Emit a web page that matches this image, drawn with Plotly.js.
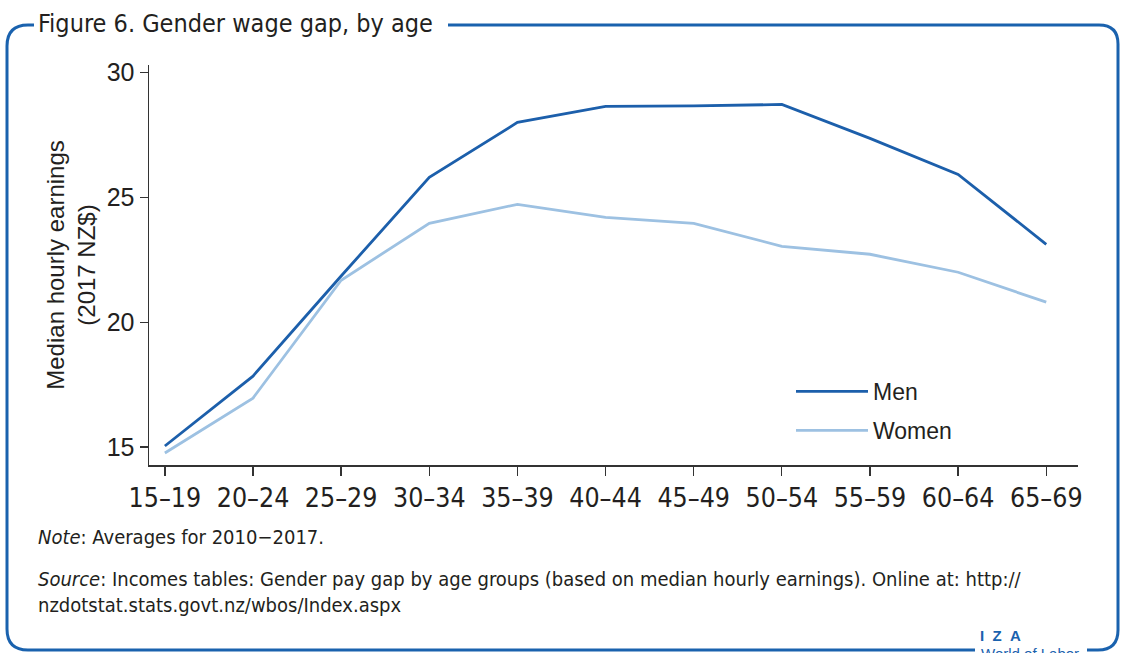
<!DOCTYPE html>
<html>
<head>
<meta charset="utf-8">
<script src="https://cdn.plot.ly/plotly-3.0.1.min.js"></script>
<style>
  html, body { margin: 0; padding: 0; background: #fff; }
  #chart { width: 1121px; height: 653px; }
</style>
</head>
<body>
<div id="chart"></div>
<script>
// ---- data ----
const ageGroups = ["15–19", "20–24", "25–29", "30–34", "35–39", "40–44", "45–49", "50–54", "55–59", "60–64", "65–69"];
const menEarnings = [15.04, 17.84, 21.85, 25.8, 28.0, 28.64, 28.66, 28.72, 27.36, 25.92, 23.12];
const womenEarnings = [14.76, 16.96, 21.68, 23.96, 24.72, 24.2, 23.96, 23.04, 22.72, 22.0, 20.8];
const seriesNames = ["Men", "Women"];

const titleText = "Figure 6. Gender wage gap, by age";
const yTitle = "Median hourly earnings<br>(2017 NZ$)";
const noteText = "<i>Note</i>: Averages for 2010−2017.";
const sourceText = "<i>Source</i>: Incomes tables: Gender pay gap by age groups (based on median hourly earnings). Online at: http://<br>nzdotstat.stats.govt.nz/wbos/Index.aspx";

// ---- layout helpers ----
const W = 1121, H = 653;
const M = {l: 149, r: 43, t: 65, b: 188};
const PW = W - M.l - M.r, PH = H - M.t - M.b;
const X = px => (px - M.l) / PW;
const Y = py => (H - M.b - py) / PH;

const narrow = 'Liberation Sans Narrow, Arial Narrow, DejaVu Sans Condensed, sans-serif';
const regular = 'Arial, Liberation Sans, Helvetica, sans-serif';
const ink = '#231f20';
const frameBlue = '#1a62ae';

const traces = [
  {x: ageGroups, y: menEarnings, name: seriesNames[0], type: 'scatter', mode: 'lines',
   line: {color: '#1c5fab', width: 2.8}, legendgroup: 'a'},
  {x: ageGroups, y: womenEarnings, name: seriesNames[1], type: 'scatter', mode: 'lines',
   line: {color: '#9dc1e2', width: 2.8}, legendgroup: 'b'}
];

const framePath =
  `M ${X(448)},${Y(25)} L ${X(1099)},${Y(25)} Q ${X(1118)},${Y(25)} ${X(1118)},${Y(44)} ` +
  `L ${X(1118)},${Y(630)} Q ${X(1118)},${Y(650)} ${X(1098)},${Y(650)} L ${X(1087)},${Y(650)} ` +
  `M ${X(975)},${Y(650)} L ${X(28)},${Y(650)} Q ${X(7)},${Y(650)} ${X(7)},${Y(629)} ` +
  `L ${X(7)},${Y(46)} Q ${X(7)},${Y(25)} ${X(28)},${Y(25)} L ${X(34)},${Y(25)}`;

const layout = {
  width: W, height: H,
  margin: {l: M.l, r: M.r, t: M.t, b: M.b, pad: 0},
  paper_bgcolor: '#fff', plot_bgcolor: '#fff',
  showlegend: true,
  legend: {
    x: X(791), y: Y(370), xanchor: 'left', yanchor: 'top',
    font: {family: regular, size: 23, color: ink},
    itemwidth: 72, tracegroupgap: 6, traceorder: 'grouped',
    bgcolor: 'rgba(0,0,0,0)'
  },
  xaxis: {
    type: 'category', range: [-0.18, 10.36],
    showline: true, linecolor: '#333', linewidth: 1.5,
    ticks: 'outside', ticklen: 9, tickcolor: '#333', tickwidth: 1.3,
    showgrid: false, zeroline: false,
    tickfont: {family: narrow, size: 26.5, color: ink},
    fixedrange: true
  },
  yaxis: {
    range: [14.28, 30.3],
    tickvals: [15, 20, 25, 30],
    showline: true, linecolor: '#333', linewidth: 1.5,
    ticks: 'outside', ticklen: 8, tickcolor: '#333', tickwidth: 1.3,
    showgrid: false, zeroline: false,
    tickfont: {family: regular, size: 25, color: ink},
    title: {text: yTitle, font: {family: regular, size: 24, color: ink}, standoff: 4},
    fixedrange: true
  },
  shapes: [
    {type: 'path', xref: 'paper', yref: 'paper', path: framePath,
     line: {color: frameBlue, width: 3}, layer: 'above'}
  ],
  annotations: [
    {text: titleText, xref: 'paper', yref: 'paper', x: X(36), y: Y(23), xanchor: 'left', yanchor: 'middle',
     showarrow: false, font: {family: narrow, size: 25, color: ink}},
    {text: noteText, xref: 'paper', yref: 'paper', x: X(36), y: Y(537), xanchor: 'left', yanchor: 'middle',
     showarrow: false, align: 'left', font: {family: narrow, size: 20, color: ink}},
    {text: sourceText, xref: 'paper', yref: 'paper', x: X(36), y: Y(592), xanchor: 'left', yanchor: 'middle',
     showarrow: false, align: 'left', font: {family: narrow, size: 20, color: ink}},
    {text: "<b>I&nbsp;&nbsp;Z&nbsp;&nbsp;A</b>", xref: 'paper', yref: 'paper', x: X(978), y: Y(635), xanchor: 'left', yanchor: 'middle',
     showarrow: false, font: {family: regular, size: 15, color: frameBlue}},
    {text: "World of Labor", xref: 'paper', yref: 'paper', x: X(979), y: Y(643), xanchor: 'left', yanchor: 'top',
     showarrow: false, font: {family: regular, size: 15, color: frameBlue}}
  ]
};

Plotly.newPlot('chart', traces, layout, {staticPlot: true, displayModeBar: false});
</script>
</body>
</html>
